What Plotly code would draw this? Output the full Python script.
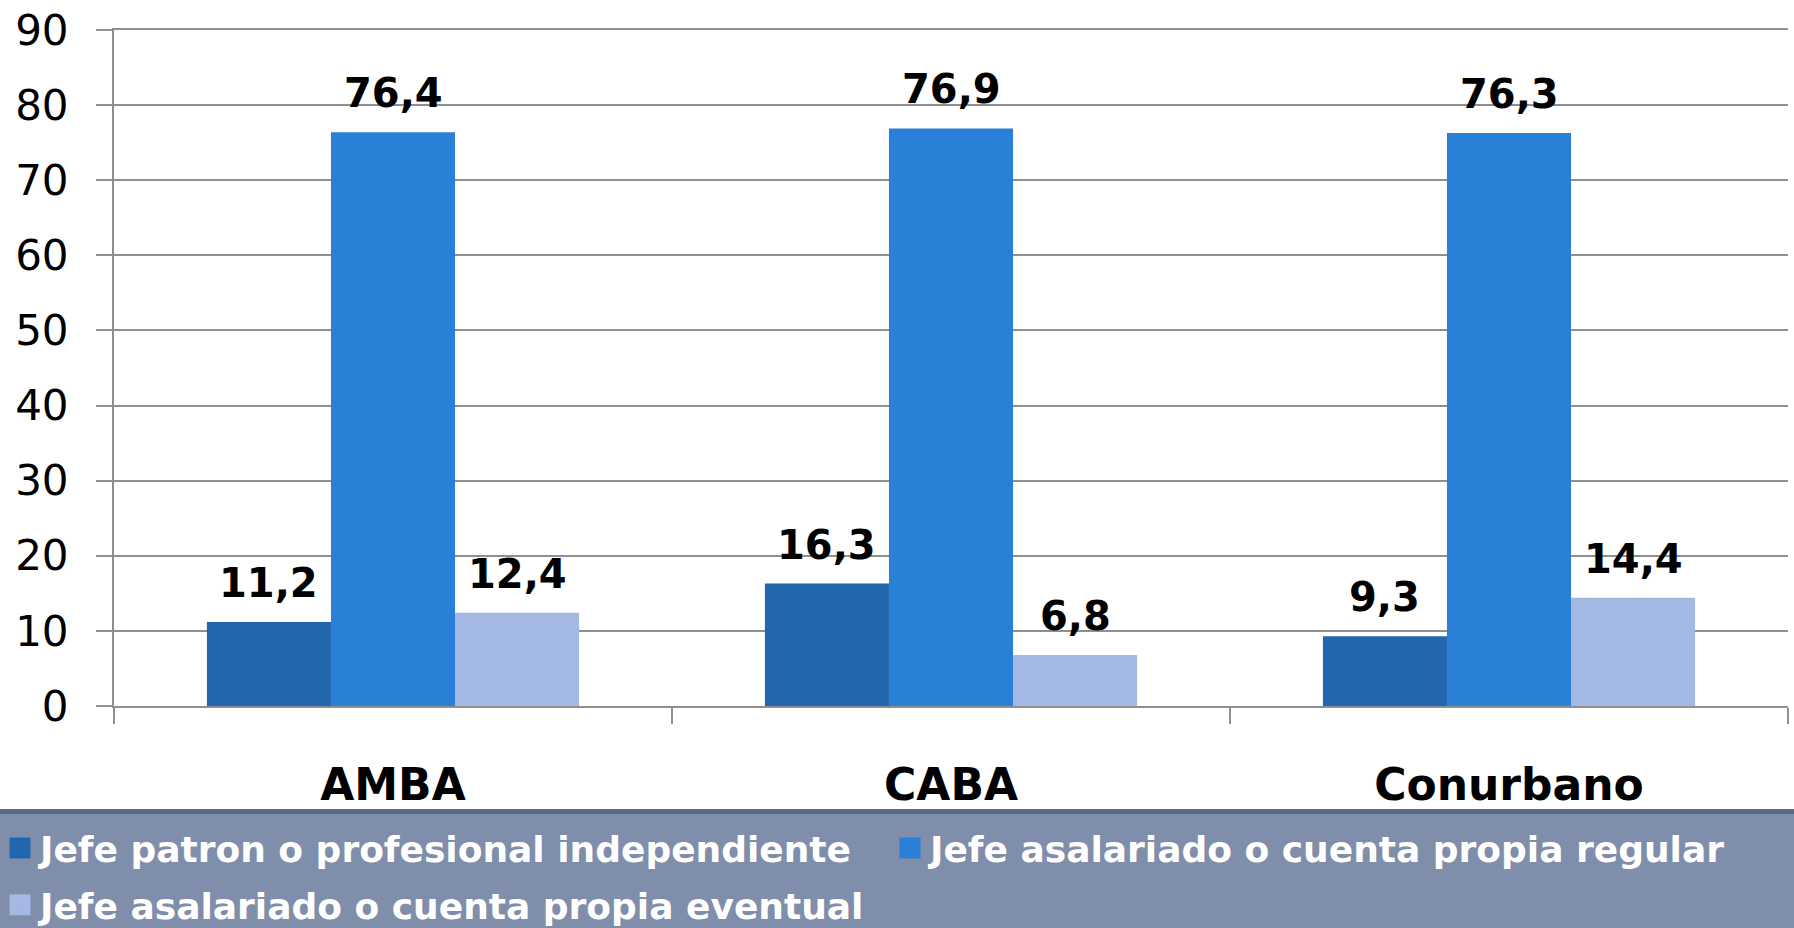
import plotly.graph_objects as go

categories = ["AMBA", "CABA", "Conurbano"]
series_names = [
    "Jefe patron o profesional independiente",
    "Jefe asalariado o cuenta propia regular",
    "Jefe asalariado o cuenta propia eventual",
]
patron_vals = [11.2, 16.3, 9.3]
regular_vals = [76.4, 76.9, 76.3]
eventual_vals = [12.4, 6.8, 14.4]
y_ticks = [0, 10, 20, 30, 40, 50, 60, 70, 80, 90]

colors = ["#2167ae", "#2a7fd6", "#a3b8e3"]
series_vals = [patron_vals, regular_vals, eventual_vals]

FONT = "DejaVu Sans"
GRID = "#8f8f8f"
BARGAP = 0.333

W, H = 1794, 928
ML, MR, MT, MB = 114, 6, 30, 222
plot_top, plot_bottom = MT, H - MB
ph = plot_bottom - plot_top
pw = W - ML - MR


def py(px):
    return (plot_bottom - px) / ph


fig = go.Figure()
for name, vals, col in zip(series_names, series_vals, colors):
    fig.add_trace(go.Bar(
        x=categories, y=vals, name=name, marker=dict(color=col, line=dict(width=0)),
        showlegend=False, legendgroup=name,
    ))
# legend entries (proxies with larger square symbols)
for name, col in zip(series_names, colors):
    fig.add_trace(go.Scatter(
        x=[None], y=[None], mode="markers", name=name, legendgroup=name,
        marker=dict(symbol="square", size=16, color=col, line=dict(color=col, width=5)),
    ))

# data labels above bars
bw = (1 - BARGAP) / 3
offsets = [-bw, 0, bw]
annotations = []
for s, vals in enumerate(series_vals):
    for i, v in enumerate(vals):
        annotations.append(dict(
            x=i + offsets[s], y=v, xref="x", yref="y",
            text="<b>" + f"{v:.1f}".replace(".", ",") + "</b>",
            showarrow=False, yanchor="bottom", yshift=14,
            font=dict(family=FONT, size=40, color="black"),
        ))

shapes = [
    dict(type="rect", xref="paper", yref="paper", x0=-0.1, x1=1.1,
         y0=py(H + 20), y1=py(814), fillcolor="#7f8eaa", line=dict(width=0), layer="above"),
    dict(type="rect", xref="paper", yref="paper", x0=-0.1, x1=1.1,
         y0=py(814), y1=py(809), fillcolor="#5b6a86", line=dict(width=0), layer="above"),
]

fig.update_layout(
    width=W, height=H,
    margin=dict(l=ML, r=MR, t=MT, b=MB, autoexpand=False),
    paper_bgcolor="white", plot_bgcolor="white",
    barmode="group", bargap=BARGAP, bargroupgap=0,
    font=dict(family=FONT, color="black"),
    annotations=annotations, shapes=shapes,
    showlegend=True,
    legend=dict(
        orientation="h", xref="paper", yref="paper", traceorder="grouped",
        x=-ML / pw, xanchor="left", y=py(818), yanchor="top",
        entrywidth=845, entrywidthmode="pixels", tracegroupgap=7,
        font=dict(family=FONT, size=36, color="white", weight="bold"),
        bgcolor="rgba(0,0,0,0)", borderwidth=0,
    ),
    xaxis=dict(
        type="category", showgrid=False, showline=True, mirror=True,
        linecolor=GRID, linewidth=2,
        ticks="outside", ticklen=16, tickwidth=2, tickcolor=GRID, tickson="boundaries",
        tickfont=dict(family=FONT, size=44, color="black", weight="bold"),
        ticklabelstandoff=39,
    ),
    yaxis=dict(
        range=[0, 90], tickvals=y_ticks, showgrid=True, gridcolor=GRID, gridwidth=2,
        showline=True, linecolor=GRID, linewidth=2, zeroline=False,
        ticks="outside", ticklen=16, tickwidth=2, tickcolor=GRID,
        tickfont=dict(family=FONT, size=42, color="black"),
        ticklabelstandoff=19, ticklabeloverflow="allow",
    ),
)

fig.write_html(
    "out.html",
    config={"displayModeBar": False},
    post_script="document.body.style.margin='0';document.body.style.overflow='hidden';",
)
